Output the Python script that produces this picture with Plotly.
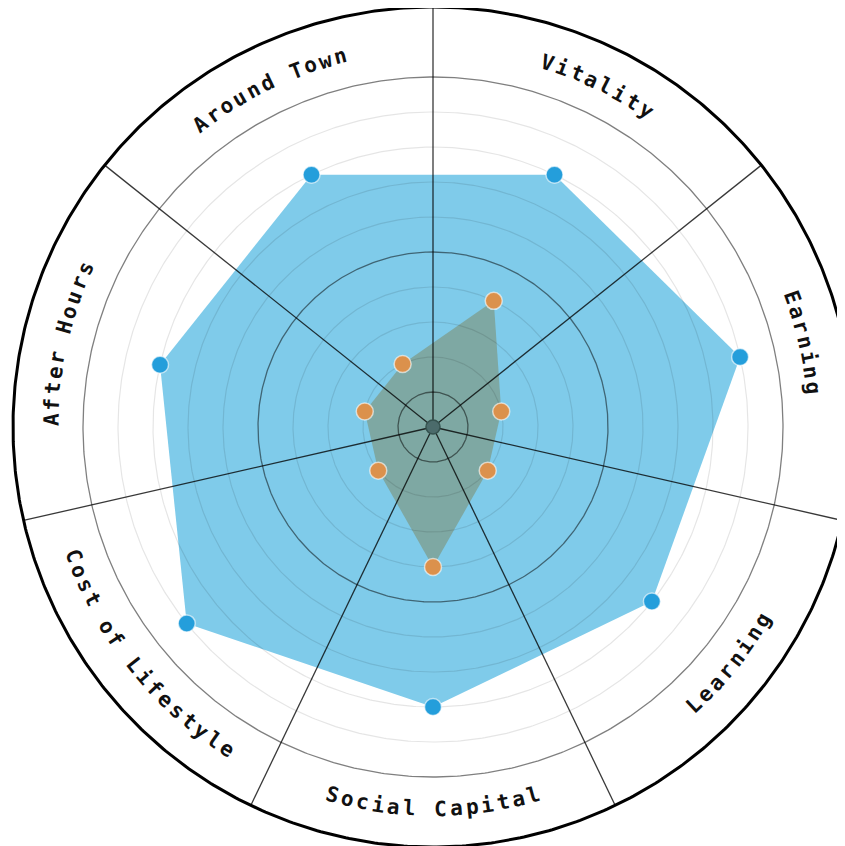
import numpy as np
import plotly.graph_objects as go

# ---- data ----
categories = ["Vitality", "Earning", "Learning", "Social Capital",
              "Cost of Lifestyle", "After Hours", "Around Town"]
series_blue = [8, 9, 8, 8, 9, 8, 8]
series_orange = [4, 2, 2, 4, 2, 2, 2]

light_levels = [2, 3, 4, 6, 7, 8, 9]
dark_levels = [1, 5, 10]
outer_level = 12
label_level = 10.91

# ---- geometry helpers ----
N = len(categories)
step = 360.0 / N
theta_deg = step * (np.arange(N) + 0.5)
theta = np.deg2rad(theta_deg)


def polar_xy(vals, ang):
    r = np.asarray(vals, float)
    return r * np.sin(ang), r * np.cos(ang)


def closed(a):
    a = list(a)
    return a + a[:1]


def rings(levels):
    t = np.linspace(0, 2 * np.pi, 721)
    xs, ys = [], []
    for r in levels:
        xs += list(r * np.sin(t)) + [None]
        ys += list(r * np.cos(t)) + [None]
    return xs, ys


fig = go.Figure()

bx, by = polar_xy(series_blue, theta)
ox, oy = polar_xy(series_orange, theta)

fig.add_trace(go.Scatter(x=closed(bx), y=closed(by), fill="toself",
                         fillcolor="#7fcbea", mode="lines",
                         line=dict(width=0, color="#7fcbea"),
                         hoverinfo="skip"))
fig.add_trace(go.Scatter(x=closed(ox), y=closed(oy), fill="toself",
                         fillcolor="#7ea8a3", mode="lines",
                         line=dict(width=0, color="#7ea8a3"),
                         hoverinfo="skip"))

lx, ly = rings(light_levels)
fig.add_trace(go.Scatter(x=lx, y=ly, mode="lines",
                         line=dict(width=1.2, color="rgba(0,0,0,0.10)"),
                         hoverinfo="skip"))
dx, dy = rings(dark_levels)
fig.add_trace(go.Scatter(x=dx, y=dy, mode="lines",
                         line=dict(width=1.3, color="rgba(0,0,0,0.5)"),
                         hoverinfo="skip"))

# spokes at sector boundaries
sx, sy = [], []
for k in range(N):
    a = np.deg2rad(step * k)
    sx += [0, outer_level * np.sin(a), None]
    sy += [0, outer_level * np.cos(a), None]
fig.add_trace(go.Scatter(x=sx, y=sy, mode="lines",
                         line=dict(width=1.3, color="rgba(0,0,0,0.78)"),
                         hoverinfo="skip"))

ux, uy = rings([outer_level])
fig.add_trace(go.Scatter(x=ux, y=uy, mode="lines",
                         line=dict(width=3, color="#000000"),
                         hoverinfo="skip"))

fig.add_trace(go.Scatter(x=bx, y=by, mode="markers", text=categories,
                         marker=dict(size=17, color="#249edb",
                                     line=dict(width=1.5, color="rgba(255,255,255,0.6)")),
                         hovertemplate="%{text}<extra></extra>"))
fig.add_trace(go.Scatter(x=ox, y=oy, mode="markers", text=categories,
                         marker=dict(size=17, color="#db914c",
                                     line=dict(width=1.5, color="rgba(255,255,255,0.6)")),
                         hovertemplate="%{text}<extra></extra>"))
fig.add_trace(go.Scatter(x=[0], y=[0], mode="markers",
                         marker=dict(size=14, color="#4b6b6b",
                                     line=dict(width=1.5, color="#35524f")),
                         hoverinfo="skip"))

# curved category labels, one annotation per character
char_step = 2.35
annotations = []
for name, th in zip(categories, theta_deg):
    n = len(name)
    top = (th < 90) or (th > 270)
    for k, ch in enumerate(name):
        if ch == " ":
            continue
        off = (k - (n - 1) / 2) * char_step
        phi = th + off if top else th - off
        rot = phi if top else phi - 180
        rot = ((rot + 180) % 360) - 180
        a = np.deg2rad(phi)
        annotations.append(dict(
            x=label_level * np.sin(a), y=label_level * np.cos(a),
            xref="x", yref="y", text=ch, showarrow=False,
            textangle=rot, xanchor="center", yanchor="middle",
            font=dict(family="DejaVu Sans Mono", size=21, color="#111111",
                      weight="bold")))

# page body has an 8px default margin, so the centre is offset accordingly
W, H = 845, 846
cx, cy = 425, 419
unit = 35.0
fig.update_layout(
    width=W, height=H, margin=dict(l=0, r=0, t=0, b=0),
    paper_bgcolor="white", plot_bgcolor="white", showlegend=False,
    annotations=annotations,
    xaxis=dict(range=[-cx / unit, (W - cx) / unit], visible=False,
               fixedrange=True),
    yaxis=dict(range=[-(H - cy) / unit, cy / unit], visible=False,
               fixedrange=True),
)

fig.write_html("out.html")
